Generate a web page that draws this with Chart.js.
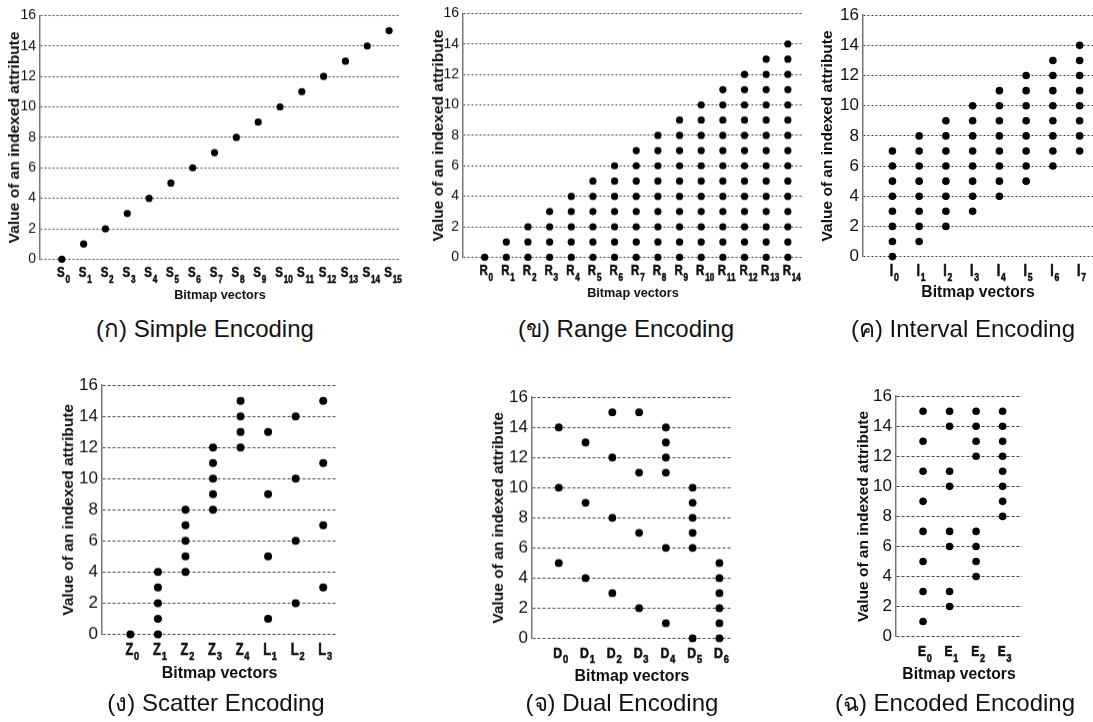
<!DOCTYPE html>
<html>
<head>
<meta charset="utf-8">
<script src="https://cdn.jsdelivr.net/npm/chart.js@4.4.0/dist/chart.umd.min.js"></script>
<style>
  html, body { margin: 0; padding: 0; background: #fff; }
  #page { position: relative; width: 1093px; height: 722px; overflow: hidden; }
  #page canvas { position: absolute; }
  .caption {
    position: absolute;
    transform: translate(-50%, -50%);
    white-space: nowrap;
    font-family: "Liberation Sans", Arial, "Noto Sans", sans-serif;
    font-size: 24px;
    color: #111;
  }
</style>
</head>
<body>
<div id="page"></div>
<script>
// Bitmap vector names and the attribute values each vector covers
const simpleVectors = ['S0', 'S1', 'S2', 'S3', 'S4', 'S5', 'S6', 'S7', 'S8', 'S9', 'S10', 'S11', 'S12', 'S13', 'S14', 'S15'];
const simpleValues = [[0], [1], [2], [3], [4], [5], [6], [7], [8], [9], [10], [11], [12], [13], [14], [15]];

const rangeVectors = ['R0', 'R1', 'R2', 'R3', 'R4', 'R5', 'R6', 'R7', 'R8', 'R9', 'R10', 'R11', 'R12', 'R13', 'R14'];
const rangeValues = [
    [0],
    [0, 1],
    [0, 1, 2],
    [0, 1, 2, 3],
    [0, 1, 2, 3, 4],
    [0, 1, 2, 3, 4, 5],
    [0, 1, 2, 3, 4, 5, 6],
    [0, 1, 2, 3, 4, 5, 6, 7],
    [0, 1, 2, 3, 4, 5, 6, 7, 8],
    [0, 1, 2, 3, 4, 5, 6, 7, 8, 9],
    [0, 1, 2, 3, 4, 5, 6, 7, 8, 9, 10],
    [0, 1, 2, 3, 4, 5, 6, 7, 8, 9, 10, 11],
    [0, 1, 2, 3, 4, 5, 6, 7, 8, 9, 10, 11, 12],
    [0, 1, 2, 3, 4, 5, 6, 7, 8, 9, 10, 11, 12, 13],
    [0, 1, 2, 3, 4, 5, 6, 7, 8, 9, 10, 11, 12, 13, 14],
];

const intervalVectors = ['I0', 'I1', 'I2', 'I3', 'I4', 'I5', 'I6', 'I7'];
const intervalValues = [
    [0, 1, 2, 3, 4, 5, 6, 7],
    [1, 2, 3, 4, 5, 6, 7, 8],
    [2, 3, 4, 5, 6, 7, 8, 9],
    [3, 4, 5, 6, 7, 8, 9, 10],
    [4, 5, 6, 7, 8, 9, 10, 11],
    [5, 6, 7, 8, 9, 10, 11, 12],
    [6, 7, 8, 9, 10, 11, 12, 13],
    [7, 8, 9, 10, 11, 12, 13, 14],
];

const scatterVectors = ['Z0', 'Z1', 'Z2', 'Z3', 'Z4', 'L1', 'L2', 'L3'];
const scatterValues = [
    [0],
    [0, 1, 2, 3, 4],
    [4, 5, 6, 7, 8],
    [8, 9, 10, 11, 12],
    [12, 13, 14, 15],
    [1, 5, 9, 13],
    [2, 6, 10, 14],
    [3, 7, 11, 15],
];

const dualVectors = ['D0', 'D1', 'D2', 'D3', 'D4', 'D5', 'D6'];
const dualValues = [
    [5, 10, 14],
    [4, 9, 13],
    [3, 8, 12, 15],
    [2, 7, 11, 15],
    [1, 6, 11, 12, 13, 14],
    [0, 6, 7, 8, 9, 10],
    [0, 1, 2, 3, 4, 5],
];

const encodedVectors = ['E0', 'E1', 'E2', 'E3'];
const encodedValues = [
    [1, 3, 5, 7, 9, 11, 13, 15],
    [2, 3, 6, 7, 10, 11, 14, 15],
    [4, 5, 6, 7, 12, 13, 14, 15],
    [8, 9, 10, 11, 12, 13, 14, 15],
];

const yTicksMax = 16;
const yTickStep = 2;
const yTitle = 'Value of an indexed attribute';
const xTitle = 'Bitmap vectors';

const SANS = '"Liberation Sans", Arial, sans-serif';

// one entry per sub-figure: plot box in page pixels plus text sizes
const panels = [
    {
        caption: '(ก) Simple Encoding', names: simpleVectors, values: simpleValues,
        box: { left: 40, top: 15, right: 400, bottom: 259 }, xMin: -1, xMax: 15.5,
        titleGap: 26, xTitleOffset: 36, tickSize: 14, xTitleSize: 12.7,
        letterSize: 15.5, subSize: 11, squeeze: 0.74, letterDy: 18, subDy: 24, radius: 3.6, dash: [2, 2],
        captionAt: [205, 328],
    },
    {
        caption: '(ข) Range Encoding', names: rangeVectors, values: rangeValues,
        box: { left: 463, top: 13, right: 803, bottom: 257 }, xMin: -1, xMax: 14.7,
        titleGap: 25, xTitleOffset: 36, tickSize: 14, xTitleSize: 12.7,
        letterSize: 15.5, subSize: 11, squeeze: 0.74, letterDy: 18, subDy: 24, radius: 3.6, dash: [2, 2],
        captionAt: [626, 328],
    },
    {
        caption: '(ค) Interval Encoding', names: intervalVectors, values: intervalValues,
        box: { left: 863, top: 13, right: 1093, bottom: 257 }, xMin: -1.1, xMax: 7.5,
        titleGap: 36, xTitleOffset: 36, tickSize: 17, xTitleSize: 15.7,
        letterSize: 16, subSize: 11, squeeze: 0.78, letterDy: 19, subDy: 24, radius: 3.8, dash: [2, 2],
        captionAt: [963, 328],
    },
    {
        caption: '(ง) Scatter Encoding', names: scatterVectors, values: scatterValues,
        box: { left: 102, top: 383, right: 337, bottom: 634 }, xMin: -1.03, xMax: 7.5,
        titleGap: 34, xTitleOffset: 39, tickSize: 17, xTitleSize: 16,
        letterSize: 16, subSize: 11.5, squeeze: 0.8, letterDy: 21, subDy: 26, radius: 4, dash: [3, 2],
        captionAt: [216, 702],
    },
    {
        caption: '(จ) Dual Encoding', names: dualVectors, values: dualValues,
        box: { left: 532, top: 395, right: 732, bottom: 638 }, xMin: -1, xMax: 6.47,
        titleGap: 34, xTitleOffset: 38, tickSize: 17, xTitleSize: 15.9,
        letterSize: 14.5, subSize: 11, squeeze: 0.85, letterDy: 20, subDy: 25, radius: 3.9, dash: [3, 2],
        captionAt: [622, 702],
    },
    {
        caption: '(ฉ) Encoded Encoding', names: encodedVectors, values: encodedValues,
        box: { left: 896, top: 394, right: 1022, bottom: 637 }, xMin: -1.02, xMax: 3.73,
        titleGap: 33, xTitleOffset: 38, tickSize: 17, xTitleSize: 15.7,
        letterSize: 14, subSize: 10.5, squeeze: 0.85, letterDy: 19, subDy: 25, radius: 3.8, dash: [3, 2],
        captionAt: [955, 702],
    },
];

// x tick labels drawn as a condensed heavy letter with a lowered index, e.g. S and 10
function subscriptLabels(panel) {
    const drawSqueezed = (ctx, text, x, y, sx) => {
        ctx.save();
        ctx.translate(x, y);
        ctx.scale(sx, 1);
        ctx.fillText(text, 0, 0);
        ctx.strokeText(text, 0, 0);
        ctx.restore();
    };
    return {
        id: 'subscriptLabels',
        afterDraw(chart) {
            const { ctx, chartArea } = chart;
            const xScale = chart.scales.x;
            const sx = panel.squeeze;
            ctx.save();
            ctx.fillStyle = '#111';
            ctx.strokeStyle = '#111';
            ctx.lineWidth = 0.6;
            ctx.textAlign = 'left';
            ctx.textBaseline = 'alphabetic';
            panel.names.forEach((name, i) => {
                const [, letter, digits] = name.match(/^([A-Z])(\d+)$/);
                const px = xScale.getPixelForValue(i);
                ctx.font = `bold ${panel.letterSize}px ${SANS}`;
                const lw = ctx.measureText(letter).width * sx;
                const startX = px - lw / 2 - 1;
                drawSqueezed(ctx, letter, startX, chartArea.bottom + panel.letterDy, sx);
                ctx.font = `bold ${panel.subSize}px ${SANS}`;
                drawSqueezed(ctx, digits, startX + lw + 0.8, chartArea.bottom + panel.subDy, sx);
            });
            ctx.restore();
        },
    };
}

document.addEventListener('DOMContentLoaded', () => {
    const page = document.getElementById('page');

    panels.forEach((panel) => {
        const padTop = 12;
        const padRight = 14;
        const yWidth = panel.titleGap + 14;
        const xHeight = panel.xTitleOffset + (panel.xTitleSize * 1.2) / 2 + 2;
        const left = panel.box.left - yWidth;
        const top = panel.box.top - padTop;
        const width = panel.box.right - left + padRight;
        const height = panel.box.bottom + xHeight - top;

        const canvas = document.createElement('canvas');
        canvas.width = width;
        canvas.height = height;
        canvas.style.left = `${left}px`;
        canvas.style.top = `${top}px`;
        canvas.style.width = `${width}px`;
        canvas.style.height = `${height}px`;
        page.appendChild(canvas);

        const points = [];
        panel.values.forEach((vals, i) => {
            vals.forEach((v) => points.push({ x: i, y: v }));
        });

        new Chart(canvas, {
            type: 'scatter',
            data: {
                datasets: [
                    {
                        data: points,
                        backgroundColor: '#000',
                        borderWidth: 0,
                        pointRadius: panel.radius,
                        pointHoverRadius: panel.radius,
                        clip: false,
                    },
                ],
            },
            options: {
                responsive: false,
                animation: false,
                events: [],
                layout: { padding: { top: padTop, left: 0, right: padRight, bottom: 0 } },
                scales: {
                    x: {
                        type: 'linear',
                        min: panel.xMin,
                        max: panel.xMax,
                        ticks: { display: false },
                        grid: { display: false },
                        border: { display: false },
                        title: {
                            display: true,
                            text: xTitle,
                            color: '#111',
                            font: { family: SANS, size: panel.xTitleSize, weight: 'bold' },
                            padding: { top: 0, bottom: 2 },
                        },
                        afterFit: (scale) => { scale.height = xHeight; },
                    },
                    y: {
                        min: 0,
                        max: yTicksMax,
                        ticks: {
                            stepSize: yTickStep,
                            color: '#111',
                            padding: 4,
                            font: { family: SANS, size: panel.tickSize },
                        },
                        grid: { color: '#444', lineWidth: 1, drawTicks: false },
                        border: { display: true, color: '#777', width: 1.5, dash: panel.dash },
                        title: {
                            display: true,
                            text: yTitle,
                            color: '#111',
                            font: { family: SANS, size: 15.5, weight: 'bold' },
                            padding: { top: 5, bottom: 0 },
                        },
                        afterFit: (scale) => { scale.width = yWidth; },
                    },
                },
                plugins: {
                    legend: { display: false },
                    tooltip: { enabled: false },
                },
            },
            plugins: [subscriptLabels(panel)],
        });

        const cap = document.createElement('div');
        cap.className = 'caption';
        cap.textContent = panel.caption;
        cap.style.left = `${panel.captionAt[0]}px`;
        cap.style.top = `${panel.captionAt[1]}px`;
        page.appendChild(cap);
    });
});
</script>
</body>
</html>
